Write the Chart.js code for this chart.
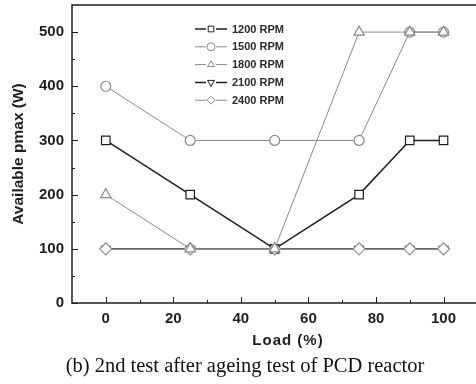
<!DOCTYPE html>
<html>
<head>
<meta charset="utf-8">
<script src="https://cdn.jsdelivr.net/npm/chart.js@4"></script>
<style>
  html, body { margin: 0; padding: 0; background: #fff; overflow: hidden; }
  #wrap { position: relative; width: 476px; height: 384px; overflow: hidden; }
  #c { position: absolute; left: 0; top: 0; }
  #caption {
    position: absolute; left: 0; width: 490px; top: 353px; text-align: center; line-height: 24px;
    font-family: 'Liberation Serif', 'Times New Roman', serif; font-size: 20.5px; color: #111;
  }
</style>
</head>
<body>
<div id="wrap">
  <canvas id="c" width="480" height="384"></canvas>
  <div id="caption">(b) 2nd test after ageing test of PCD reactor</div>
</div>
<script>
  // load (%) en beschikbaar vermogen per toerental
  const loads = [0, 25, 50, 75, 90, 100];
  const rpm1200 = [300, 200, 100, 200, 300, 300];
  const rpm1500 = [400, 300, 300, 300, 500, 500];
  const rpm1800 = [200, 100, 100, 500, 500, 500];
  const rpm2100 = [100, 100, 100, 100, 100, 100];
  const rpm2400 = [100, 100, 100, 100, 100, 100];
  const seriesNames = ['1200 RPM', '1500 RPM', '1800 RPM', '2100 RPM', '2400 RPM'];
  const xTicks = [0, 20, 40, 60, 80, 100];
  const xMinor = [10, 30, 50, 70, 90];
  const yTicks = [0, 100, 200, 300, 400, 500];
  const yMinor = [50, 150, 250, 350, 450];

  const DARK = '#1e1e1e';
  const GREY = '#8a8a8a';
  const FONT = '"Liberation Sans", Arial, sans-serif';

  // order: lager = bovenop
  const styles = [
    { color: DARK, width: 1.5, point: 'rect', radius: 6, rot: 0, order: 2 },
    { color: GREY, width: 1, point: 'circle', radius: 5, rot: 0, order: 4 },
    { color: GREY, width: 1, point: 'triangle', radius: 6, rot: 0, order: 0 },
    { color: DARK, width: 1.5, point: 'triangle', radius: 5, rot: 180, order: 3 },
    { color: GREY, width: 1, point: 'rectRot', radius: 6, rot: 0, order: 1 },
  ];
  const values = [rpm1200, rpm1500, rpm1800, rpm2100, rpm2400];

  function pts(arr) { return loads.map((x, i) => ({ x, y: arr[i] })); }

  // frame, inward ticks, x title and legend
  const decor = {
    id: 'decor',
    afterDraw(chart) {
      const { ctx, chartArea: a, scales } = chart;
      const xs = scales.x, ys = scales.y;
      ctx.save();
      ctx.strokeStyle = DARK;
      ctx.lineWidth = 1.5;
      ctx.strokeRect(a.left, a.top, a.right - a.left + 10, a.bottom - a.top);
      ctx.lineWidth = 1;
      ctx.beginPath();
      xTicks.forEach((v) => { const p = Math.round(xs.getPixelForValue(v)) + 0.5; ctx.moveTo(p, a.bottom); ctx.lineTo(p, a.bottom - 6); });
      xMinor.forEach((v) => { const p = Math.round(xs.getPixelForValue(v)) + 0.5; ctx.moveTo(p, a.bottom); ctx.lineTo(p, a.bottom - 3); });
      yTicks.forEach((v) => { const p = Math.round(ys.getPixelForValue(v)) + 0.5; ctx.moveTo(a.left, p); ctx.lineTo(a.left + 6, p); });
      yMinor.forEach((v) => { const p = Math.round(ys.getPixelForValue(v)) + 0.5; ctx.moveTo(a.left, p); ctx.lineTo(a.left + 3, p); });
      ctx.stroke();

      ctx.fillStyle = DARK;
      ctx.font = 'bold 15px ' + FONT;
      ctx.textAlign = 'center';
      ctx.textBaseline = 'middle';
      if ('letterSpacing' in ctx) ctx.letterSpacing = '1px';
      ctx.fillText('Load (%)', 288, 341);
      if ('letterSpacing' in ctx) ctx.letterSpacing = '0px';

      // legenda
      ctx.font = 'bold 11px ' + FONT;
      ctx.textAlign = 'left';
      seriesNames.forEach((name, i) => {
        const s = styles[i];
        const y = 29 + i * 17.8;
        ctx.strokeStyle = s.color;
        ctx.lineWidth = s.width;
        ctx.beginPath();
        ctx.moveTo(195, y); ctx.lineTo(206, y);
        ctx.moveTo(216, y); ctx.lineTo(227, y);
        ctx.stroke();
        ctx.fillStyle = '#fff';
        ctx.lineWidth = 1;
        Chart.helpers.drawPoint(ctx, { pointStyle: s.point, radius: 4, rotation: s.rot, borderWidth: 1 }, 211, y);
        ctx.fillStyle = '#2a2a2a';
        ctx.fillText(name, 232, y + 0.5);
      });
      ctx.restore();
    },
  };

  new Chart(document.getElementById('c'), {
    type: 'line',
    data: {
      datasets: values.map((arr, i) => ({
        label: seriesNames[i],
        data: pts(arr),
        order: styles[i].order,
        borderColor: styles[i].color,
        borderWidth: styles[i].width,
        pointStyle: styles[i].point,
        pointRadius: styles[i].radius,
        pointRotation: styles[i].rot,
        pointBorderColor: styles[i].color,
        pointBorderWidth: 1.2,
        pointBackgroundColor: '#fff',
        tension: 0,
        fill: false,
      })),
    },
    options: {
      responsive: false,
      animation: false,
      layout: { autoPadding: false, padding: { top: 5, right: 0, left: 0, bottom: 0 } },
      plugins: { legend: { display: false }, tooltip: { enabled: false } },
      scales: {
        x: {
          type: 'linear',
          min: -10,
          max: 110.8,
          afterBuildTicks: (s) => { s.ticks = xTicks.map((v) => ({ value: v })); },
          afterFit: (s) => { s.height = 81; },
          grid: { display: false, drawTicks: false, tickLength: 0 },
          border: { display: false },
          ticks: {
            color: DARK,
            padding: 7,
            maxRotation: 0,
            font: { family: FONT, size: 15, weight: 'bold' },
          },
        },
        y: {
          min: 0,
          max: 550,
          afterBuildTicks: (s) => { s.ticks = yTicks.map((v) => ({ value: v })); },
          afterFit: (s) => { s.width = 72; s.paddingTop = 0; s.paddingBottom = 0; },
          grid: { display: false, drawTicks: false, tickLength: 0 },
          border: { display: false },
          ticks: {
            color: DARK,
            padding: 8,
            font: { family: FONT, size: 15, weight: 'bold' },
          },
          title: {
            display: true,
            text: 'Available pmax (W)',
            color: DARK,
            padding: { top: 9, bottom: 0 },
            font: { family: FONT, size: 15.5, weight: 'bold' },
          },
        },
      },
    },
    plugins: [decor],
  });
</script>
</body>
</html>
